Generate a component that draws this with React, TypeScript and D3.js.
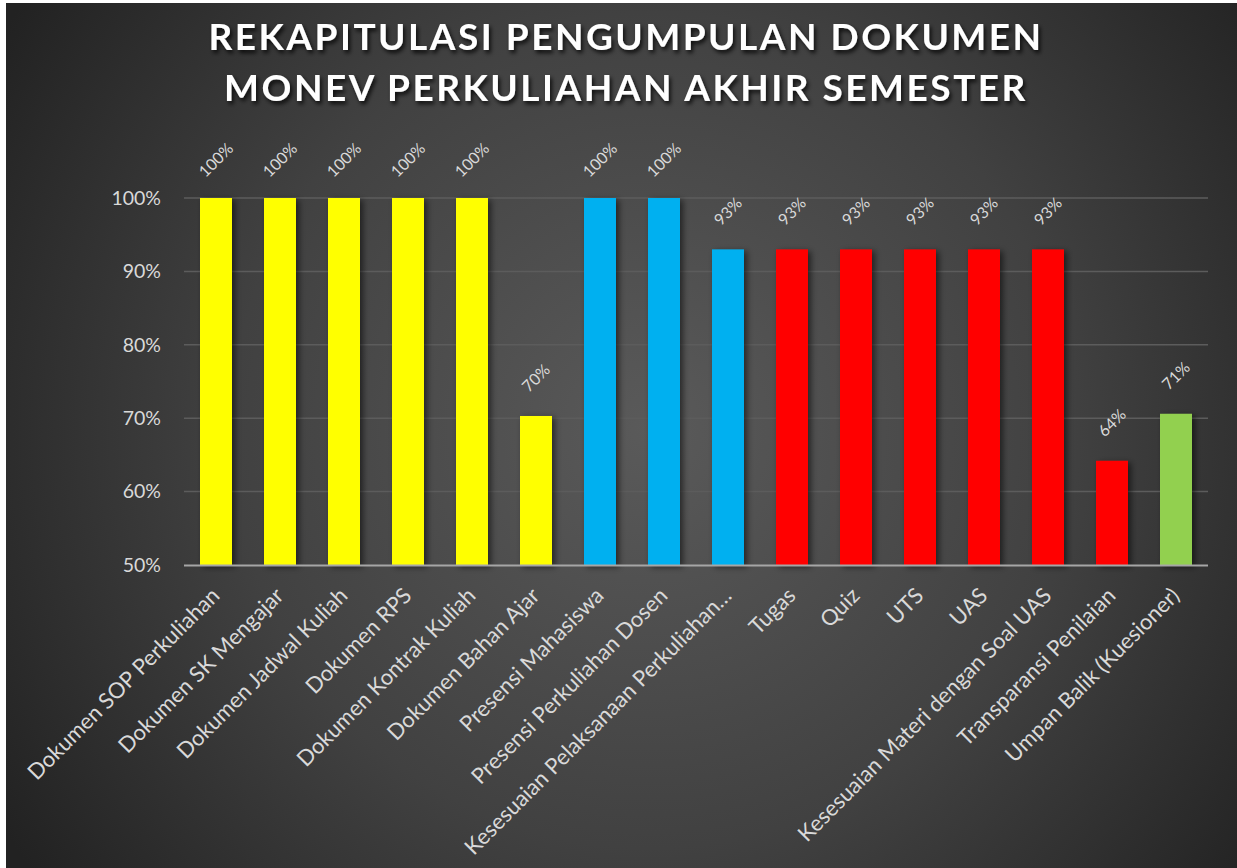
import React from "react";
import * as d3 from "d3";

const categories = [
  "Dokumen SOP Perkuliahan",
  "Dokumen SK Mengajar",
  "Dokumen Jadwal Kuliah",
  "Dokumen RPS",
  "Dokumen Kontrak Kuliah",
  "Dokumen Bahan Ajar",
  "Presensi Mahasiswa",
  "Presensi Perkuliahan Dosen",
  "Kesesuaian Pelaksanaan Perkuliahan…",
  "Tugas",
  "Quiz",
  "UTS",
  "UAS",
  "Kesesuaian Materi dengan Soal UAS",
  "Transparansi Penilaian",
  "Umpan Balik (Kuesioner)",
];
const values = [1.0, 1.0, 1.0, 1.0, 1.0, 0.703, 1.0, 1.0, 0.93, 0.93, 0.93, 0.93, 0.93, 0.93, 0.642, 0.706];
const valueLabels = ["100%", "100%", "100%", "100%", "100%", "70%", "100%", "100%", "93%", "93%", "93%", "93%", "93%", "93%", "64%", "71%"];
const barColors = ["#FFFF00", "#FFFF00", "#FFFF00", "#FFFF00", "#FFFF00", "#FFFF00", "#00B0F0", "#00B0F0", "#00B0F0", "#FF0000", "#FF0000", "#FF0000", "#FF0000", "#FF0000", "#FF0000", "#92D050"];
const yTicks = [0.5, 0.6, 0.7, 0.8, 0.9, 1.0];
const titleLines = ["REKAPITULASI PENGUMPULAN DOKUMEN", "MONEV PERKULIAHAN AKHIR SEMESTER"];

const W = 1237;
const H = 868;
const FONT = "Lato, 'Open Sans', sans-serif";

export default function App() {
  const x = d3.scaleBand<string>().domain(categories).range([184, 1208]).paddingInner(0.5).paddingOuter(0.25);
  const y = d3.scaleLinear().domain([0.5, 1.0]).range([565, 198]);
  const fmt = d3.format(".0%");

  return (
    <svg width={W} height={H} style={{ position: "absolute", left: 0, top: 0, background: "#fff" }}>
      <defs>
        <radialGradient id="bg" gradientUnits="userSpaceOnUse" cx={650} cy={430} r={760}>
          <stop offset="0" stopColor="#5a5a5a" />
          <stop offset="0.55" stopColor="#414141" />
          <stop offset="1" stopColor="#222222" />
        </radialGradient>
        <filter id="barShadow" x="-50%" y="-10%" width="200%" height="130%">
          <feDropShadow dx="3" dy="2" stdDeviation="3" floodColor="#000" floodOpacity="0.55" />
        </filter>
        <filter id="titleShadow" x="-10%" y="-30%" width="120%" height="160%">
          <feDropShadow dx="2" dy="3" stdDeviation="2" floodColor="#000" floodOpacity="0.8" />
        </filter>
      </defs>
      <rect x={6} y={3} width={W - 6} height={H - 3} fill="url(#bg)" />

      {titleLines.map((t, i) => (
        <text
          key={t}
          x={626}
          y={50 + i * 51}
          textAnchor="middle"
          fontFamily={FONT}
          fontWeight={700}
          fontSize={37}
          letterSpacing={2.5}
          fill="#ffffff"
          filter="url(#titleShadow)"
        >
          {t}
        </text>
      ))}

      {yTicks.map((t) => (
        <g key={t}>
          {t > 0.5 && <line x1={184} x2={1208} y1={y(t)} y2={y(t)} stroke="#5c5c5c" strokeWidth={1.5} />}
          <text x={161} y={y(t)} dy="0.35em" textAnchor="end" fontFamily={FONT} fontSize={19.5} fill="#d9d9d9">
            {fmt(t)}
          </text>
        </g>
      ))}

      {categories.map((c, i) => (
        <rect
          key={c}
          x={x(c)}
          y={y(values[i])}
          width={x.bandwidth()}
          height={y(0.5) - y(values[i])}
          fill={barColors[i]}
          filter="url(#barShadow)"
        />
      ))}

      <line x1={184} x2={1208} y1={565.5} y2={565.5} stroke="#a6a6a6" strokeWidth={2} />

      {categories.map((c, i) => {
        const cx = (x(c) as number) + x.bandwidth() / 2;
        const cy = y(values[i]) - 38;
        return (
          <text
            key={"v" + c}
            transform={`translate(${cx},${cy}) rotate(-45)`}
            textAnchor="middle"
            dy="0.35em"
            fontFamily={FONT}
            fontSize={16}
            fill="#d9d9d9"
          >
            {valueLabels[i]}
          </text>
        );
      })}

      {categories.map((c, i) => {
        const cx = (x(c) as number) + x.bandwidth() / 2;
        return (
          <text
            key={"c" + c}
            transform={`translate(${cx + 5},${597}) rotate(-45)`}
            textAnchor="end"
            fontFamily={FONT}
            fontSize={22}
            fill="#d9d9d9"
          >
            {c}
          </text>
        );
      })}
    </svg>
  );
}
